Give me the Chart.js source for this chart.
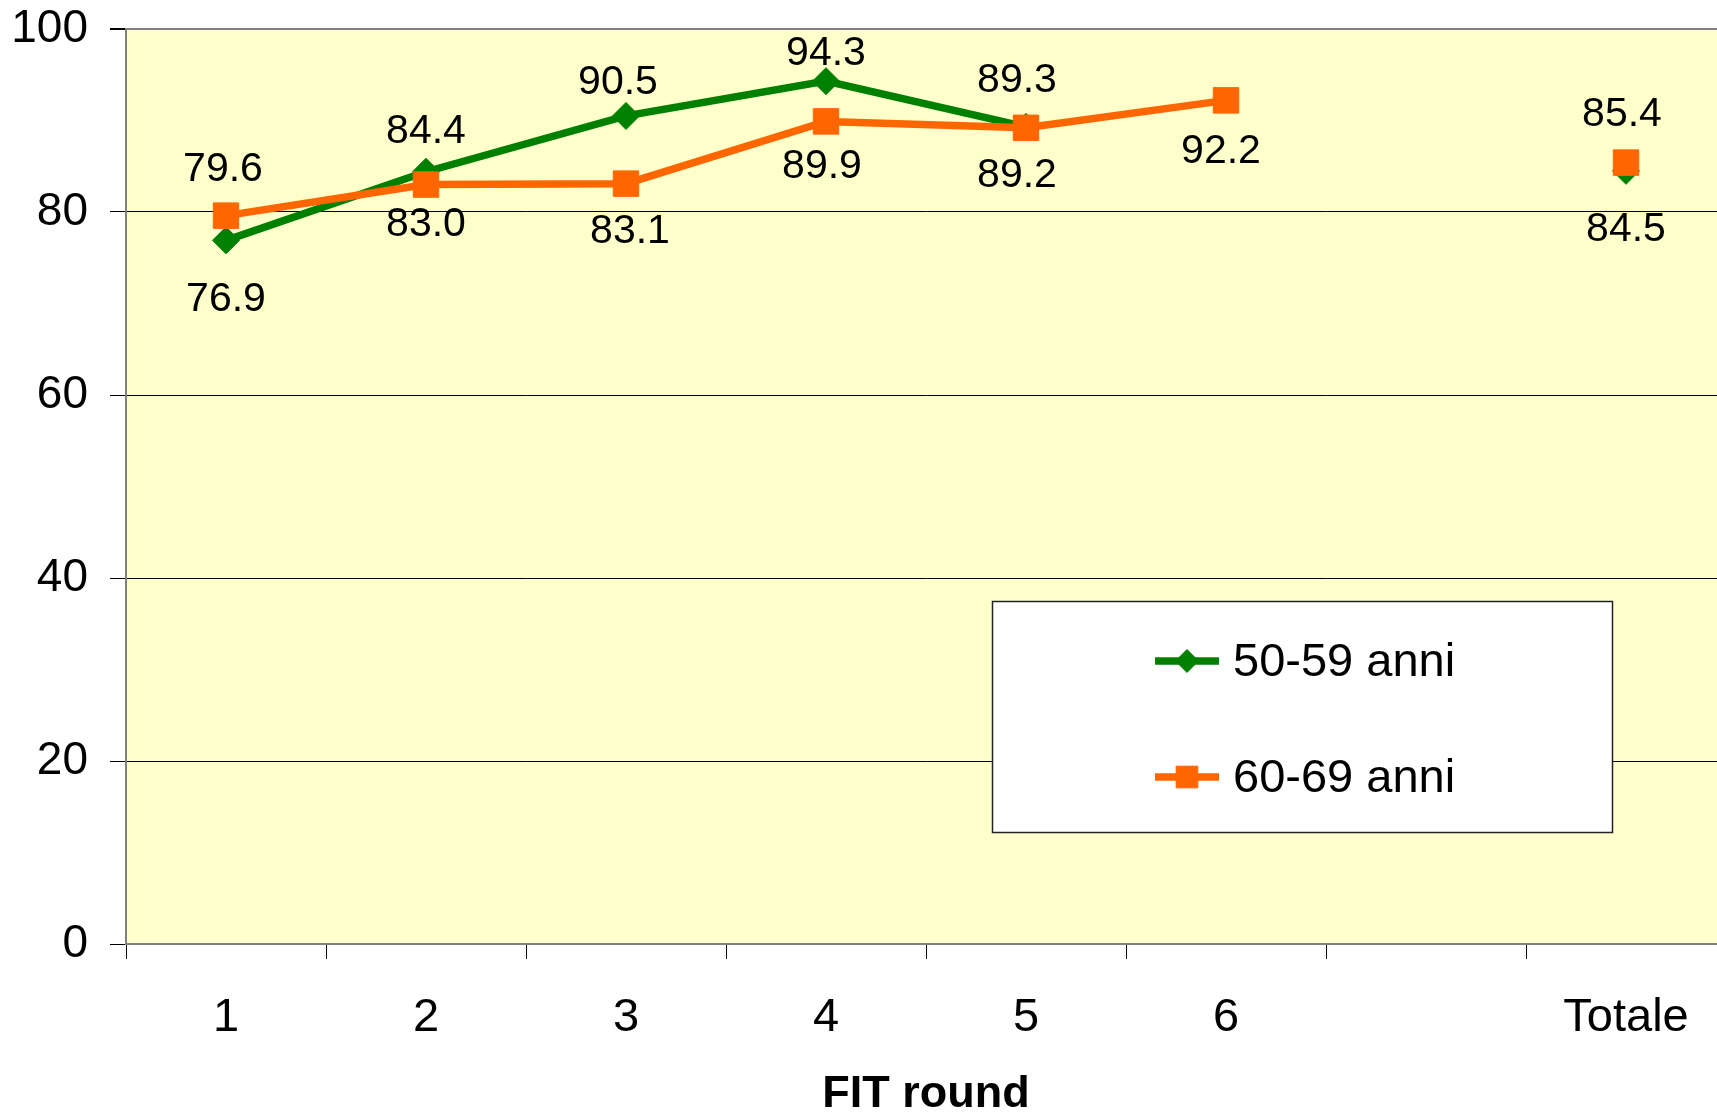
<!DOCTYPE html>
<html>
<head>
<meta charset="utf-8">
<title>FIT round</title>
<script src="https://cdn.jsdelivr.net/npm/chart.js@4/dist/chart.umd.min.js"></script>
<style>
  html, body { margin: 0; padding: 0; background: #ffffff; overflow: hidden; width: 1717px; height: 1113px; }
  #c { display: block; }
</style>
</head>
<body>
<canvas id="c" width="1726" height="1113"></canvas>
<script>
// Categories along the x axis (the empty slot separates the rounds from the total)
const rounds = ['1', '2', '3', '4', '5', '6', '', 'Totale'];

// Series values (percent)
const age5059 = [76.9, 84.4, 90.5, 94.3, 89.3, null, null, 84.5];
const age6069 = [79.6, 83.0, 83.1, 89.9, 89.2, 92.2, null, 85.4];

// Series names
const seriesNames = ['50-59 anni', '60-69 anni'];

// Y axis ticks
const yTicks = [0, 20, 40, 60, 80, 100];

// Value label placement relative to each point, in pixels (negative dy = above)
const labelDy5059 = [59, -40, -33, -27, -46, 0, 0, 59];
const labelDx5059 = [0, 0, -8, 0, -9, 0, 0, 0];
const labelDy6069 = [-46, 40, 48, 45, 48, 51, 0, -48];
const labelDx6069 = [-3, 0, 4, -4, -9, -5, 0, -4];

const FONT = '"Liberation Sans", Arial, Helvetica, sans-serif';
const GREEN = '#008000';
const ORANGE = '#FF6600';

// Yellow plot background
const plotBackground = {
  id: 'plotBackground',
  beforeDraw(chart) {
    const { ctx, chartArea: a } = chart;
    ctx.save();
    ctx.fillStyle = '#FFFFCC';
    ctx.fillRect(a.left, a.top, a.right - a.left, a.bottom - a.top);
    ctx.restore();
  }
};

// Value labels above / below each point
const valueLabels = {
  id: 'valueLabels',
  afterDatasetsDraw(chart) {
    const { ctx } = chart;
    ctx.save();
    ctx.font = '41px ' + FONT;
    ctx.fillStyle = '#000000';
    ctx.textAlign = 'center';
    ctx.textBaseline = 'middle';
    chart.data.datasets.forEach((ds, di) => {
      const meta = chart.getDatasetMeta(di);
      meta.data.forEach((pt, i) => {
        const v = ds.data[i];
        if (v === null || v === undefined) return;
        ctx.fillText(v.toFixed(1), pt.x + ds.labelDx[i], pt.y + ds.labelDy[i]);
      });
    });
    ctx.restore();
  }
};

// Boxed legend inside the plot area
const boxedLegend = {
  id: 'boxedLegend',
  afterDraw(chart) {
    const { ctx } = chart;
    const box = { x: 992, y: 601, w: 621, h: 232 };
    ctx.save();
    ctx.fillStyle = '#FFFFFF';
    ctx.fillRect(box.x, box.y, box.w, box.h);
    ctx.strokeStyle = '#222222';
    ctx.lineWidth = 1.5;
    ctx.strokeRect(box.x + 0.5, box.y + 0.5, box.w - 1, box.h - 1);
    const rowsY = [box.y + 60, box.y + 176];
    chart.data.datasets
      .slice()
      .sort((a, b) => a.legendIndex - b.legendIndex)
      .forEach((ds, k) => {
        const y = rowsY[k];
        const x0 = box.x + 163, x1 = box.x + 227, xm = (x0 + x1) / 2;
        ctx.strokeStyle = ds.borderColor;
        ctx.lineWidth = ds.borderWidth;
        ctx.beginPath();
        ctx.moveTo(x0, y);
        ctx.lineTo(x1, y);
        ctx.stroke();
        ctx.fillStyle = ds.pointBackgroundColor;
        ctx.strokeStyle = ds.pointBorderColor;
        ctx.lineWidth = 1;
        Chart.helpers.drawPoint(ctx, {
          pointStyle: ds.pointStyle,
          rotation: 0,
          radius: ds.pointRadius * 0.85,
          borderWidth: 1
        }, xm, y);
        ctx.fillStyle = '#000000';
        ctx.font = '47px ' + FONT;
        ctx.textAlign = 'left';
        ctx.textBaseline = 'middle';
        ctx.fillText(ds.label, box.x + 241, y + 2);
      });
    ctx.restore();
  }
};

new Chart(document.getElementById('c'), {
  type: 'line',
  data: {
    labels: rounds,
    datasets: [
      {
        label: seriesNames[1],
        data: age6069,
        labelDx: labelDx6069,
        labelDy: labelDy6069,
        legendIndex: 1,
        order: 0,
        borderColor: ORANGE,
        backgroundColor: ORANGE,
        borderWidth: 7.5,
        pointStyle: 'rect',
        pointRadius: 18,
        pointHoverRadius: 18,
        pointBackgroundColor: ORANGE,
        pointBorderColor: ORANGE,
        pointBorderWidth: 1,
        spanGaps: false,
        clip: false,
        tension: 0
      },
      {
        label: seriesNames[0],
        data: age5059,
        labelDx: labelDx5059,
        labelDy: labelDy5059,
        legendIndex: 0,
        order: 1,
        borderColor: GREEN,
        backgroundColor: GREEN,
        borderWidth: 7.5,
        pointStyle: 'rectRot',
        pointRadius: 13.5,
        pointHoverRadius: 13.5,
        pointBackgroundColor: GREEN,
        pointBorderColor: GREEN,
        pointBorderWidth: 1,
        spanGaps: false,
        clip: false,
        tension: 0
      }
    ]
  },
  options: {
    responsive: false,
    devicePixelRatio: 1,
    animation: false,
    events: [],
    layout: { autoPadding: false, padding: { top: 29, right: 0, bottom: 0, left: 0 } },
    plugins: {
      legend: { display: false },
      tooltip: { enabled: false },
      title: { display: false }
    },
    scales: {
      x: {
        type: 'category',
        offset: true,
        grid: {
          offset: true,
          drawOnChartArea: false,
          drawTicks: true,
          tickLength: 15,
          color: '#000000',
          lineWidth: 1
        },
        border: { display: true, color: '#808080', width: 2 },
        ticks: {
          color: '#000000',
          font: { family: FONT, size: 47 },
          padding: 31,
          maxRotation: 0,
          autoSkip: false
        },
        title: {
          display: true,
          text: 'FIT round',
          color: '#000000',
          font: { family: FONT, size: 45, weight: 'bold', lineHeight: 0.8 },
          padding: 0
        },
        afterFit(scale) { scale.height = 169; }
      },
      y: {
        min: 0,
        max: 100,
        afterBuildTicks(scale) { scale.ticks = yTicks.map(v => ({ value: v })); },
        grid: {
          color: ctx => (ctx.tick && ctx.tick.value === 100 ? '#808080' : '#000000'),
          lineWidth: ctx => (ctx.tick && ctx.tick.value === 100 ? 2 : 1),
          tickColor: '#000000',
          tickLength: 16,
          drawTicks: true
        },
        border: { display: true, color: '#808080', width: 2 },
        ticks: {
          color: '#000000',
          font: { family: FONT, size: 46, lineHeight: 0.1 },
          padding: 22
        },
        afterFit(scale) { scale.width = 126; }
      }
    }
  },
  plugins: [plotBackground, valueLabels, boxedLegend]
});
</script>
</body>
</html>
